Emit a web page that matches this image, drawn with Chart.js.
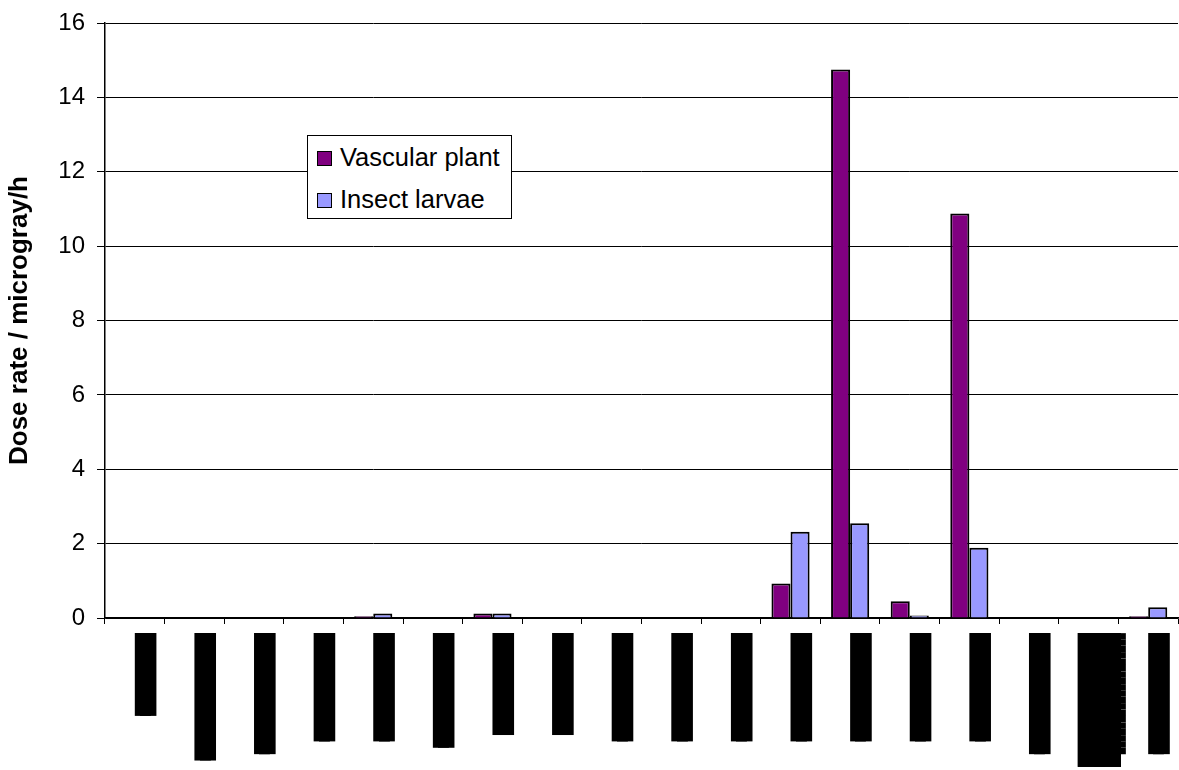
<!DOCTYPE html>
<html>
<head>
<meta charset="utf-8">
<script src="https://cdn.jsdelivr.net/npm/chart.js@4/dist/chart.umd.min.js"></script>
<style>
  html, body { margin: 0; padding: 0; background: #fff; }
  #wrap { position: relative; width: 1179px; height: 770px; }
  #legend {
    position: absolute; left: 307px; top: 135px; width: 205px; height: 84px;
    border: 1px solid #000; background: #fff; box-sizing: border-box;
    font: 25.5px "Liberation Sans", Arial, sans-serif; color: #000;
    padding: 0 0 0 9px;
  }
  #legend div { height: 42px; line-height: 42px; white-space: nowrap; }
  #legend span.sw {
    display: inline-block; width: 13px; height: 13px; border: 1px solid #000;
    margin-right: 8px; vertical-align: 0px;
  }
</style>
</head>
<body>
<div id="wrap">
  <canvas id="chart" width="1179" height="770"></canvas>
  <div id="legend"></div>
</div>
<script>
// category labels are redacted in the source picture (black bars)
const categories = [
  "█████████████", "████████████████████", "███████████████████",
  "█████████████████", "█████████████████", "██████████████████",
  "████████████████", "████████████████", "█████████████████",
  "█████████████████", "█████████████████", "█████████████████",
  "█████████████████", "█████████████████", "█████████████████",
  "███████████████████", ["█████████████████████", "███████████████████"],
  "███████████████████"
];
const vascularPlant = [0, 0, 0, 0, 0.05, 0, 0.12, 0, 0, 0, 0, 0.93, 14.75, 0.45, 10.88, 0, 0, 0.05];
const insectLarvae = [0, 0, 0, 0, 0.12, 0, 0.12, 0, 0, 0, 0, 2.32, 2.55, 0.07, 1.89, 0, 0, 0.29];
const yTicks = [0, 2, 4, 6, 8, 10, 12, 14, 16];

const font = "'Liberation Sans', Arial, sans-serif";

const chart = new Chart(document.getElementById("chart"), {
  type: "bar",
  data: {
    labels: categories,
    datasets: [
      {
        label: "Vascular plant",
        data: vascularPlant,
        backgroundColor: "#800080",
        borderColor: "#000",
        borderWidth: 2,
      },
      {
        label: "Insect larvae",
        data: insectLarvae,
        backgroundColor: "#9999ff",
        borderColor: "#000",
        borderWidth: 2,
      },
    ],
  },
  options: {
    responsive: false,
    animation: false,
    layout: { padding: { top: 23, right: 1, bottom: 0, left: 0 } },
    plugins: {
      legend: { display: false },
      tooltip: { enabled: false },
    },
    datasets: {
      bar: { categoryPercentage: 0.64, barPercentage: 1 },
    },
    scales: {
      x: {
        grid: { drawOnChartArea: false, drawTicks: true, tickLength: 6, color: "#000", offset: true },
        border: { color: "#000", width: 1.5 },
        ticks: {
          font: { family: font, size: 9, lineHeight: 2.4 },
          color: "#000",
          minRotation: 90,
          maxRotation: 90,
          autoSkip: false,
          padding: 9,
          showLabelBackdrop: true,
          backdropColor: "#000",
          backdropPadding: 0,
        },
        afterFit: (s) => { s.height = 152; s.paddingLeft = 0; s.paddingRight = 0; },
      },
      y: {
        min: 0,
        max: 16,
        afterBuildTicks: (s) => { s.ticks = yTicks.map((v) => ({ value: v })); },
        grid: { color: "#000", lineWidth: 1, tickLength: 8 },
        border: { color: "#000", width: 1.5 },
        ticks: {
          font: { family: font, size: 24 },
          color: "#000",
          padding: 12,
        },
        title: {
          display: true,
          text: "Dose rate / microgray/h",
          font: { family: font, size: 26, weight: "bold" },
          color: "#000",
          padding: { top: 4, bottom: 0 },
        },
        afterFit: (s) => { s.width = 105; s.paddingTop = 0; s.paddingBottom = 0; },
      },
    },
  },
});

// legend box placed inside the plot like the original
const legendEl = document.getElementById("legend");
chart.data.datasets.forEach((ds) => {
  const row = document.createElement("div");
  row.innerHTML = `<span class="sw" style="background:${ds.backgroundColor}"></span>${ds.label}`;
  legendEl.appendChild(row);
});
</script>
</body>
</html>
